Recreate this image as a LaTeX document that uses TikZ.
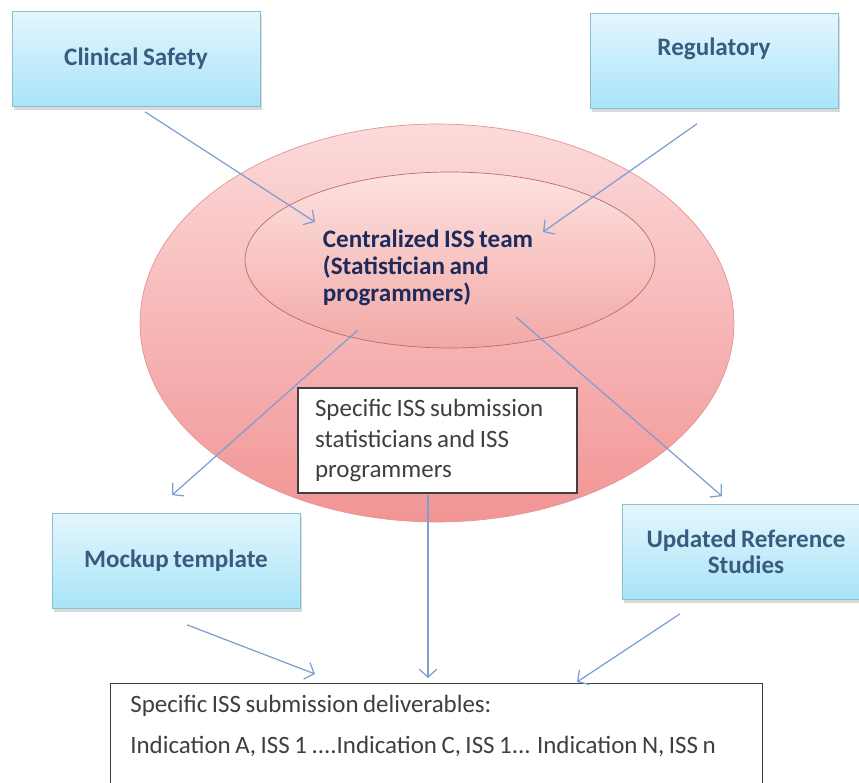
\documentclass[tikz,border=0pt]{standalone}
\usepackage{fontspec}
\setmainfont{Carlito}[WordSpace=0.8]
\usetikzlibrary{arrows.meta,shapes.geometric,shadows,calc}

\definecolor{boxtop}{HTML}{E4F6FD}
\definecolor{boxbot}{HTML}{A8E4F8}
\definecolor{boxline}{HTML}{8DBFD2}
\definecolor{boxtext}{HTML}{3A5A80}
\definecolor{outertop}{HTML}{FCDADA}
\definecolor{outerbot}{HTML}{F29494}
\definecolor{outerline}{HTML}{E49494}
\definecolor{innertop}{HTML}{FDE2E0}
\definecolor{innerbot}{HTML}{F2A8A5}
\definecolor{innerline}{HTML}{B86C6C}
\definecolor{teamblue}{HTML}{1E2B5C}
\definecolor{textgray}{HTML}{3F3F3F}
\definecolor{arrowblue}{HTML}{7C9ED0}

\begin{document}
\begin{tikzpicture}[x=0.02cm,y=-0.02cm,>={Straight Barb[length=4.5pt,width=10pt]},
    bluebox/.style={draw=boxline,top color=boxtop,bottom color=boxbot,
      minimum width=4.96cm,minimum height=1.9cm,
      drop shadow={shadow xshift=1pt,shadow yshift=-2pt,opacity=0.3},
      text=boxtext,font=\fontsize{14.3}{15}\selectfont\bfseries,align=center},
    boxlabel/.style={text=boxtext,font=\fontsize{14.3}{15}\selectfont\bfseries},
    whitebox/.style={draw=textgray,fill=white,line width=0.8pt,text=textgray},
    ring/.style={ellipse,inner sep=0pt},
    plain/.style={text=textgray,font=\fontsize{14.2}{17.4}\selectfont},
    arr/.style={->,draw=arrowblue,line width=0.7pt}]
  \clip (0,0) rectangle (859,783);

  % the two rings
  \node[ring,draw=outerline,top color=outertop,bottom color=outerbot,
    minimum width=11.88cm,minimum height=7.96cm] (outer) at (437,323) {};
  \node[ring,draw=innerline,top color=innertop,bottom color=innerbot,
    minimum width=8.2cm,minimum height=3.52cm] (inner) at (450,260) {};
  \node[text=teamblue,font=\fontsize{14.3}{15.4}\selectfont\bfseries,align=left]
    (team) at (428,268) {Centralized ISS team\\(Statistician and\\programmers)};

  % input and output boxes
  \node[bluebox] (clin) at (136,59) {Clinical Safety};
  \node[bluebox,label={[boxlabel,yshift=7pt]center:Regulatory}] (reg) at (714,61) {};
  \node[bluebox] (mock) at (176,561) {Mockup template};
  \node[bluebox] (upd) at (746,552) {Updated Reference\\Studies};

  \node[whitebox,plain,minimum width=5.58cm,minimum height=2.1cm,
    text width=4.9cm,inner xsep=0.34cm,align=flush left] (spec) at (437.5,440.5)
    {Specific ISS submission\\statisticians and ISS\\programmers};

  \node[whitebox,anchor=north west,minimum width=13.04cm,minimum height=2.4cm] (dl) at (110,683) {};
  \node[plain,anchor=north west,align=left,inner sep=0pt] (dltext) at ($(dl.north west)+(20,12)$)
    {Specific ISS submission deliverables:\\[6pt]Indication A, ISS 1 ....Indication C, ISS 1... Indication N, ISS n};

  % arrow ends
  \coordinate (c1) at ($(clin.south)+(9,5)$);
  \coordinate (t1) at ($(inner.center)+(-135,-38)$);
  \coordinate (c2) at ($(reg.south)+(-17,15)$);
  \coordinate (t2) at ($(inner.center)+(93,-28)$);
  \coordinate (c3) at ($(inner.center)+(-92,70)$);
  \coordinate (t3) at ($(mock.north)+(-4,-18)$);
  \coordinate (c4) at ($(inner.center)+(66,57)$);
  \coordinate (t4) at ($(upd.north)+(-24,-8)$);
  \coordinate (c5) at ($(spec.south)+(-9.5,1)$);
  \coordinate (t5) at ($(dl.north west)+(318,-5)$);
  \coordinate (c6) at ($(mock.south)+(11,16)$);
  \coordinate (t6) at ($(dl.north west)+(205,-9)$);
  \coordinate (c7) at ($(upd.south)+(-66,14)$);
  \coordinate (t7) at ($(dl.north west)+(467,-1)$);

  \path[every edge/.style={arr}]
    (c1) edge (t1)
    (c2) edge (t2)
    (c3) edge (t3)
    (c4) edge (t4)
    (c5) edge (t5)
    (c6) edge (t6)
    (c7) edge (t7)
    ;
\end{tikzpicture}
\end{document}
